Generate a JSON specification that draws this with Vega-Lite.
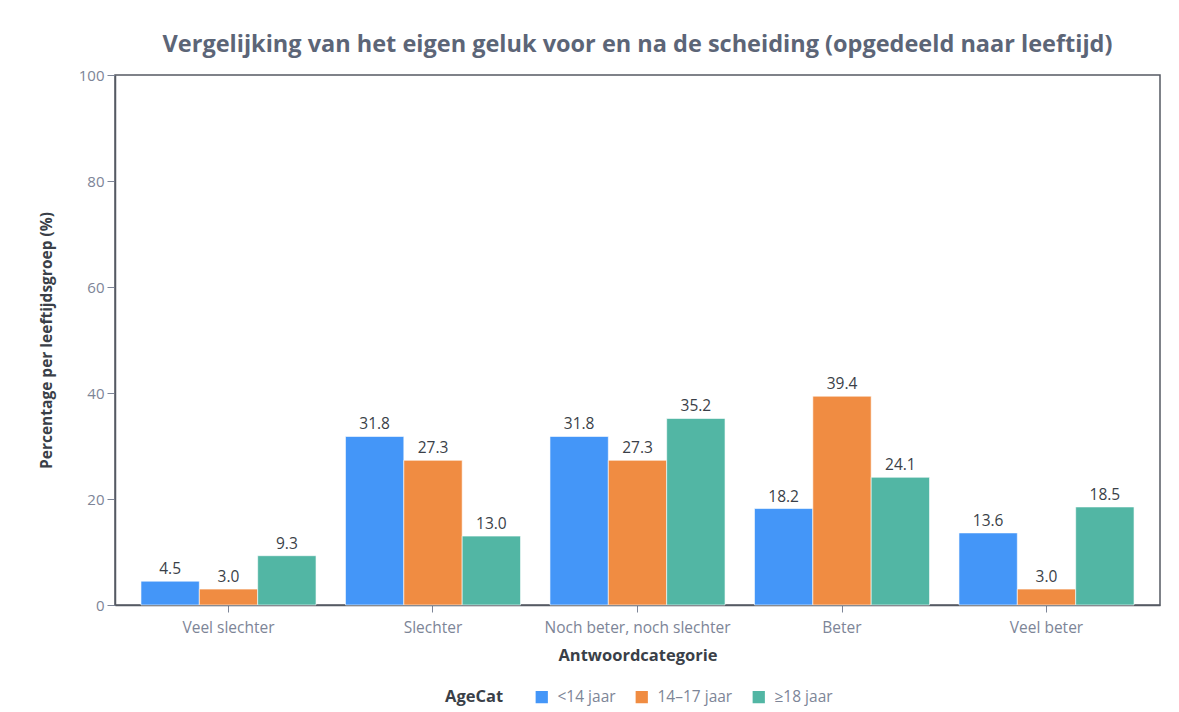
{
  "$schema": "https://vega.github.io/schema/vega-lite/v6.json",
  "width": 1045,
  "height": 530,
  "autosize": "none",
  "padding": {"left": 115, "top": 75, "right": 19, "bottom": 107},
  "background": "white",
  "config": {
    "font": "Open Sans",
    "view": {"stroke": "#555a63", "strokeWidth": 1.5}
  },
  "title": {
    "text": "Vergelijking van het eigen geluk voor en na de scheiding (opgedeeld naar leeftijd)",
    "fontSize": 23.5,
    "fontWeight": "bold",
    "color": "#5c6577",
    "anchor": "middle",
    "offset": 12
  },
  "data": {
    "values": [
      {"Antwoord": "Veel slechter", "AgeCat": "<14 jaar", "Pct": 4.5},
      {"Antwoord": "Veel slechter", "AgeCat": "14–17 jaar", "Pct": 3.0},
      {"Antwoord": "Veel slechter", "AgeCat": "≥18 jaar", "Pct": 9.3},
      {"Antwoord": "Slechter", "AgeCat": "<14 jaar", "Pct": 31.8},
      {"Antwoord": "Slechter", "AgeCat": "14–17 jaar", "Pct": 27.3},
      {"Antwoord": "Slechter", "AgeCat": "≥18 jaar", "Pct": 13.0},
      {"Antwoord": "Noch beter, noch slechter", "AgeCat": "<14 jaar", "Pct": 31.8},
      {"Antwoord": "Noch beter, noch slechter", "AgeCat": "14–17 jaar", "Pct": 27.3},
      {"Antwoord": "Noch beter, noch slechter", "AgeCat": "≥18 jaar", "Pct": 35.2},
      {"Antwoord": "Beter", "AgeCat": "<14 jaar", "Pct": 18.2},
      {"Antwoord": "Beter", "AgeCat": "14–17 jaar", "Pct": 39.4},
      {"Antwoord": "Beter", "AgeCat": "≥18 jaar", "Pct": 24.1},
      {"Antwoord": "Veel beter", "AgeCat": "<14 jaar", "Pct": 13.6},
      {"Antwoord": "Veel beter", "AgeCat": "14–17 jaar", "Pct": 3.0},
      {"Antwoord": "Veel beter", "AgeCat": "≥18 jaar", "Pct": 18.5}
    ]
  },
  "encoding": {
    "x": {
      "field": "Antwoord",
      "type": "nominal",
      "sort": ["Veel slechter", "Slechter", "Noch beter, noch slechter", "Beter", "Veel beter"],
      "scale": {"paddingInner": 0.144, "paddingOuter": 0.127},
      "axis": {
        "title": "Antwoordcategorie",
        "titleFontSize": 16.5,
        "titleFontWeight": "bold",
        "titleColor": "#3a3f48",
        "titlePadding": 12,
        "labelAngle": 0,
        "labelFontSize": 15.5,
        "labelLimit": 400,
        "labelColor": "#7d8597",
        "labelPadding": 8,
        "tickSize": 7,
        "tickColor": "#7d8597",
        "domainColor": "#555a63",
        "domainWidth": 1.5
      }
    },
    "xOffset": {"field": "AgeCat", "type": "nominal", "sort": ["<14 jaar", "14–17 jaar", "≥18 jaar"]},
    "y": {
      "field": "Pct",
      "type": "quantitative",
      "scale": {"domain": [0, 100], "nice": false},
      "axis": {
        "title": "Percentage per leeftijdsgroep (%)",
        "titleFontSize": 15.5,
        "titleFontWeight": "bold",
        "titleColor": "#3a3f48",
        "titlePadding": 24,
        "values": [0, 20, 40, 60, 80, 100],
        "grid": false,
        "labelFontSize": 15,
        "labelColor": "#7d8597",
        "labelPadding": 3,
        "tickSize": 8,
        "tickColor": "#7d8597",
        "domainColor": "#555a63",
        "domainWidth": 1.5
      }
    },
    "color": {
      "field": "AgeCat",
      "type": "nominal",
      "sort": ["<14 jaar", "14–17 jaar", "≥18 jaar"],
      "scale": {"domain": ["<14 jaar", "14–17 jaar", "≥18 jaar"], "range": ["#4496f8", "#f08c42", "#52b6a4"]},
      "legend": {
        "orient": "none",
        "legendX": 330,
        "legendY": 614,
        "direction": "horizontal",
        "titleOrient": "left",
        "title": "AgeCat",
        "titleFontSize": 16.5,
        "titleFontWeight": "bold",
        "titleColor": "#3a3f48",
        "titlePadding": 30,
        "labelFontSize": 15.5,
        "labelColor": "#7d8597",
        "labelOffset": 8,
        "symbolType": "square",
        "symbolSize": 150,
        "symbolStrokeWidth": 0,
        "columnPadding": 18
      }
    }
  },
  "layer": [
    {"mark": {"type": "bar", "stroke": "white", "strokeWidth": 0.6}},
    {
      "mark": {"type": "text", "dy": -12, "fontSize": 15.5, "color": "#3a3f48"},
      "encoding": {
        "text": {"field": "Pct", "type": "quantitative", "format": ".1f"},
        "color": {"value": "#3a3f48"}
      }
    }
  ]
}
